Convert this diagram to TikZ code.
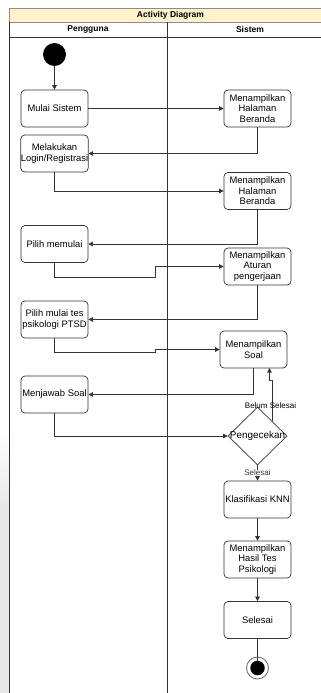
\documentclass[tikz,border=0pt]{standalone}
\usepackage{fontspec}
\setmainfont{Liberation Sans}
\usetikzlibrary{shapes.geometric,arrows.meta}
\definecolor{titlefill}{HTML}{FFF2CC}
\definecolor{laneline}{HTML}{333333}
\definecolor{margin}{HTML}{E8E8E8}

\begin{document}
\begin{tikzpicture}[x=1pt,y=-1pt,
    act/.style={draw=laneline, rounded corners=4pt, minimum width=67pt, minimum height=37pt,
      inner xsep=0pt, align=center, line width=0.7pt, font=\fontsize{9.4}{10.6}\selectfont},
    arr/.style={-{Triangle[width=4.5pt,length=4.5pt]}, line width=0.6pt, laneline},
    lbl/.style={font=\fontsize{8}{9}\selectfont}]
    \useasboundingbox (0,0) rectangle (321,693);
    \fill[white] (0,0) rectangle (321,693);
    \shade[top color=white, bottom color=margin] (0,430) rectangle (9,505);
    \fill[margin] (0,505) rectangle (9,693);

    % swimlanes
    \draw[fill=titlefill, draw=black!45] (9,8) rectangle (333,22);
    \node[font=\bfseries\fontsize{8.5}{10}\selectfont] (title) at (170.5,15) {Activity Diagram};
    \draw[laneline, line width=0.7pt] (9,37) -- (333,37);
    \draw[laneline, line width=0.7pt] (9,22) -- (9,700);
    \draw[laneline, line width=0.7pt] (167,22) -- (167,700);
    \node[font=\bfseries\fontsize{8.5}{10}\selectfont] (lane1) at (88,29.5) {Pengguna};
    \node[font=\bfseries\fontsize{8.5}{10}\selectfont] (lane2) at (250,29.5) {Sistem};

    % activities
    \node[circle, fill=black, minimum size=23pt, inner sep=0pt] (start) at (54.5,54.5) {};
    \node[act] (mulai) at (54.5,108.5) {Mulai Sistem};
    \node[act] (beranda1) at (257.5,108.5) {Menampilkan\\Halaman\\Beranda};
    \node[act] (login) at (54.5,153.5) {Melakukan\\Login/Registrasi};
    \node[act] (beranda2) at (257.5,191) {Menampilkan\\Halaman\\Beranda};
    \node[act] (memulai) at (54.5,244) {Pilih memulai};
    \node[act] (aturan) at (257.5,266.5) {Menampilkan\\Aturan\\pengerjaan};
    \node[act] (ptsd) at (54.5,319.5) {Pilih mulai tes\\psikologi PTSD};
    \node[act] (soal) at (253.5,349.5) {Menampilkan\\Soal};
    \node[act] (jawab) at (54.5,394.5) {Menjawab Soal};
    \node[diamond, draw=laneline, line width=0.7pt, minimum width=59pt, minimum height=58pt, inner sep=0pt,
      label={[font=\fontsize{9.9}{11}\selectfont]center:Pengecekan}] (cek) at (257.5,436) {};
    \node[act] (knn) at (257.5,499.5) {Klasifikasi KNN};
    \node[act] (hasil) at (257.5,559.5) {Menampilkan\\Hasil Tes\\Psikologi};
    \node[act] (selesai) at (257.5,620) {Selesai};
    \node[circle, draw=black!55, line width=0.9pt, minimum size=22pt, inner sep=0pt] (end) at (257.5,668) {};
    \node[circle, fill=black, minimum size=14.5pt, inner sep=0pt] (enddot) at (end) {};

    % flows
    \draw[arr] (start) -- (mulai);
    \draw[arr] (mulai) -- (beranda1);
    \draw[arr] (beranda1.south) |- (login.east);
    \draw[arr] (login.south) |- (beranda2.west);
    \draw[arr] (beranda2.south) |- (memulai.east);
    \draw[arr] (memulai.south) |- (155,277) |- (aturan.west);
    \draw[arr] (aturan.south) |- (ptsd.east);
    \draw[arr] (ptsd.south) |- (155,352.5) |- (soal.west);
    \draw[arr] (soal.south) |- (jawab.east);
    \draw[arr] (jawab.south) |- (cek.west);
    \draw[arr] (cek.north east) |- (272,380) -| (269.5,368);
    \node[lbl] (belum) at (270.5,405.5) {Belum Selesai};
    \draw[arr] (cek.south) -- node[lbl, fill=white, inner sep=0.5pt] (lblselesai) {Selesai} (knn.north);
    \draw[arr] (knn) -- (hasil);
    \draw[arr] (hasil) -- (selesai);
    \draw[laneline, line width=0.6pt] (selesai) -- (enddot);
\end{tikzpicture}
\end{document}
